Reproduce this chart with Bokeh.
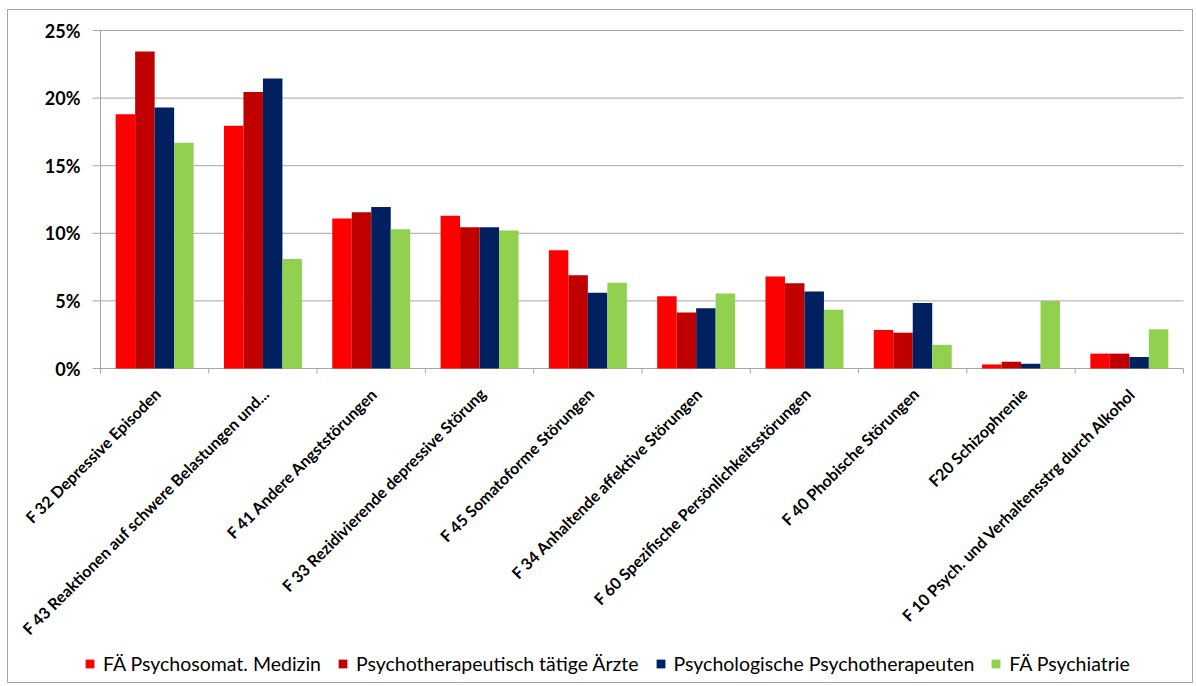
from bokeh.plotting import figure
from bokeh.models import ColumnDataSource, Range1d, Legend, LegendItem, LabelSet
from bokeh.core.properties import value
from bokeh.transform import dodge
from bokeh.embed import file_html
from bokeh.resources import INLINE
from math import pi

categories = [
    "F 32 Depressive Episoden",
    "F 43 Reaktionen auf schwere Belastungen und...",
    "F 41 Andere Angststörungen",
    "F 33 Rezidivierende depressive Störung",
    "F 45 Somatoforme Störungen",
    "F 34 Anhaltende affektive Störungen",
    "F 60 Spezifische Persönlichkeitsstörungen",
    "F 40 Phobische Störungen",
    "F20 Schizophrenie",
    "F 10 Psych. und Verhaltensstrg durch Alkohol",
]
series_names = [
    "FÄ Psychosomat. Medizin",
    "Psychotherapeutisch tätige Ärzte",
    "Psychologische Psychotherapeuten",
    "FÄ Psychiatrie",
]
psychosomatik = [18.8, 17.95, 11.1, 11.3, 8.75, 5.35, 6.8, 2.85, 0.3, 1.1]
aerzte = [23.45, 20.45, 11.55, 10.45, 6.9, 4.15, 6.3, 2.65, 0.5, 1.1]
psychologen = [19.3, 21.45, 11.95, 10.45, 5.6, 4.45, 5.7, 4.85, 0.35, 0.85]
psychiatrie = [16.7, 8.1, 10.3, 10.2, 6.35, 5.55, 4.35, 1.75, 5.0, 2.9]
y_ticks = [0, 5, 10, 15, 20, 25]
y_tick_labels = [f"{t}%" for t in y_ticks]

colors = ["#FF0000", "#C00000", "#002060", "#92D050"]
offsets = [-0.27, -0.09, 0.09, 0.27]
bar_w = 0.18
GRID = "#a6a6a6"

# layout geometry in pixels
PLOT_W, PLOT_H = 1186, 674
AX_LEFT, AX_RIGHT, AX_TOP, AX_H = 92, 11, 20, 338
Y_TICK_OUT, X_TICK_OUT, LABEL_DROP = 8, 5, 22

n = len(categories)
idx = list(range(n))
unit = (PLOT_W - AX_LEFT - AX_RIGHT) / n
pxu = AX_H / (y_ticks[-1] - y_ticks[0])

p = figure(width=PLOT_W, height=PLOT_H, output_backend="svg", toolbar_location=None,
           x_range=Range1d(-0.5 - AX_LEFT / unit, -0.5 + (PLOT_W - AX_LEFT) / unit),
           y_range=Range1d(-(PLOT_H - AX_TOP - AX_H) / pxu, y_ticks[-1] + AX_TOP / pxu),
           x_axis_location=None, y_axis_location=None,
           min_border_left=0, min_border_right=0, min_border_top=0, min_border_bottom=0)
p.styles = {"border": "1px solid #a6a6a6", "margin-left": "7px", "margin-top": "9px"}
p.outline_line_color = None
p.xgrid.grid_line_color = None
p.ygrid.grid_line_color = None

# horizontal gridlines with outward y ticks
grid_src = ColumnDataSource(data=dict(y=y_ticks))
p.segment(x0=-0.5 - Y_TICK_OUT / unit, x1=n - 0.5, y0="y", y1="y", source=grid_src,
          line_color=GRID, line_width=1)

# bars
source = ColumnDataSource(data=dict(
    x=idx, s0=psychosomatik, s1=aerzte, s2=psychologen, s3=psychiatrie))
renderers = []
for i, col in enumerate(["s0", "s1", "s2", "s3"]):
    r = p.vbar(x=dodge("x", offsets[i], range=p.x_range), top=col, width=bar_w,
               source=source, fill_color=colors[i], line_color=None)
    renderers.append(r)

# y axis line and category boundary ticks
p.segment(x0=[-0.5], x1=[-0.5], y0=[y_ticks[0]], y1=[y_ticks[-1]], line_color=GRID, line_width=1)
bound_src = ColumnDataSource(data=dict(b=[i - 0.5 for i in range(n + 1)]))
p.segment(x0="b", x1="b", y0=0, y1=-X_TICK_OUT / pxu, source=bound_src,
          line_color=GRID, line_width=1)

# y tick labels
ylab_src = ColumnDataSource(data=dict(x=[-0.5] * len(y_ticks), y=y_ticks, text=y_tick_labels))
p.add_layout(LabelSet(x="x", y="y", text="text", source=ylab_src, x_offset=-20,
                      text_align="right", text_baseline="middle",
                      text_font=value("Lato"), text_font_style="bold",
                      text_font_size="18px", text_color="#000000"))

# category labels
cat_src = ColumnDataSource(data=dict(x=idx, y=[-LABEL_DROP / pxu] * n, text=categories))
p.add_layout(LabelSet(x="x", y="y", text="text", source=cat_src, angle=pi / 4, x_offset=3,
                      text_align="right", text_baseline="middle",
                      text_font=value("Lato"), text_font_style="bold",
                      text_font_size="16px", text_color="#000000"))

legend = Legend(items=[LegendItem(label=s, renderers=[r]) for s, r in zip(series_names, renderers)],
                orientation="horizontal", location=(76, 9),
                glyph_width=11, glyph_height=11, label_standoff=8, spacing=16,
                padding=0, margin=0, border_line_color=None, background_fill_alpha=0,
                label_text_font="Lato", label_text_font_size="19.5px",
                label_text_color="#000000")
p.add_layout(legend, "center")

open("out.html", "w").write(file_html(p, INLINE))
